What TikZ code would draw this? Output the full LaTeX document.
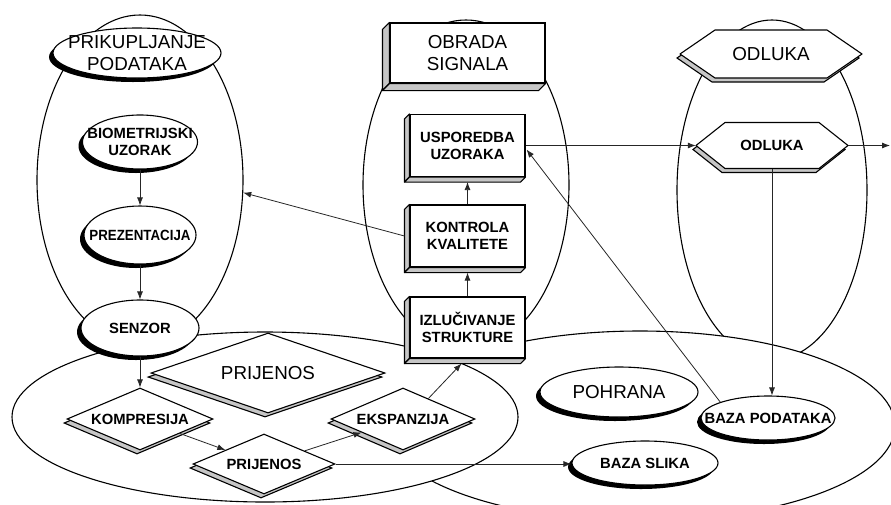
\documentclass[tikz,border=0pt]{standalone}
\usepackage{fontspec}
\setmainfont{Liberation Sans}
\usepackage{graphicx}
\usetikzlibrary{shapes.geometric,arrows.meta,calc}
\tikzset{
  grp/.style={draw, ellipse, line width=1.1pt, inner sep=0pt},
  big/.style={font=\fontsize{18.8}{22.5}\selectfont, align=center, inner sep=0pt},
  small/.style={font=\bfseries\fontsize{14.8}{17}\selectfont, align=center, inner sep=0pt},
  oval/.style={ellipse, draw, fill=white, line width=1.1pt, inner sep=0pt,
    preaction={fill=black, transform canvas={xshift=-4pt, yshift=-4pt}}},
  box/.style={rectangle, draw, fill=white, line width=1.1pt, inner sep=0pt},
  dia/.style={diamond, draw, fill=white, line width=1.1pt, inner sep=0pt,
    preaction={draw=black, fill=gray!45, line width=1.1pt, transform canvas={xshift=-3pt, yshift=-4pt}}},
  hexa/.style={draw, fill=white, line width=1.1pt, line join=round,
    preaction={draw=black, fill=gray!45, line width=1.1pt, transform canvas={xshift=-3pt, yshift=-4pt}}},
  bevel/.style={fill=gray!45, draw=black, line width=1.1pt, line join=round},
  conn/.style={draw=black!85, line width=0.8pt, -{Latex[length=8pt,width=6pt]}},
  plain/.style={draw=black!85, line width=0.8pt},
}
\begin{document}
\begin{tikzpicture}[x=1pt, y=-1pt]
\useasboundingbox (0,0) rectangle (891,504);
\clip (0,0) rectangle (891,504);
% group ellipses
\node[grp, minimum width=206pt, minimum height=330pt] (grpL) at (140,180) {};
\node[grp, minimum width=206pt, minimum height=330pt] (grpM) at (466,185) {};
\node[grp, minimum width=190pt, minimum height=340pt] (grpR) at (772,190) {};
\node[grp, fill=white, minimum width=510pt, minimum height=190pt] (grpS) at (640,426) {};
\node[grp, fill=white, minimum width=506pt, minimum height=170pt] (grpT) at (265,417) {};

% headers
\node[oval, minimum width=168pt, minimum height=50pt,
  label={[big]center:{PRIKUPLJANJE\\PODATAKA}}] (prik) at (137,53) {};
\node[box, minimum width=155pt, minimum height=60pt, big] (obr) at (467.5,53) {OBRADA\\SIGNALA};
\filldraw[bevel] (obr.north west) -- ++(-7,7) -- ($(obr.south west)+(-7,7)$) -- (obr.south west) -- cycle;
\filldraw[bevel] (obr.south west) -- ++(-7,7) -- ($(obr.south east)+(-7,7)$) -- (obr.south east) -- cycle;
\path[hexa] (680,54) -- (715,30) -- (827,30) -- (862,54) -- (827,78) -- (715,78) -- cycle;
\node[big, minimum width=182pt, minimum height=48pt] (hexT) at (771,54) {ODLUKA};

% left column
\node[oval, minimum width=115pt, minimum height=54pt,
  label={[small]center:{BIOMETRIJSKI\\UZORAK}}] (bio) at (140,142) {};
\node[oval, minimum width=112pt, minimum height=58pt,
  label={[small]center:{\scalebox{0.9}[1]{PREZENTACIJA}}}] (prez) at (140,235) {};
\node[oval, minimum width=118pt, minimum height=56pt,
  label={[small]center:SENZOR}] (sen) at (140,328) {};

% middle column
\node[box, small, minimum width=115pt, minimum height=62pt] (usp) at (467.5,145.5) {USPOREDBA\\UZORAKA};
\filldraw[bevel] (usp.north west) -- ++(-5,5) -- ($(usp.south west)+(-5,5)$) -- (usp.south west) -- cycle;
\filldraw[bevel] (usp.south west) -- ++(-5,5) -- ($(usp.south east)+(-5,5)$) -- (usp.south east) -- cycle;
\node[box, small, minimum width=115pt, minimum height=62pt] (kon) at (467.5,236) {KONTROLA\\KVALITETE};
\filldraw[bevel] (kon.north west) -- ++(-5,5) -- ($(kon.south west)+(-5,5)$) -- (kon.south west) -- cycle;
\filldraw[bevel] (kon.south west) -- ++(-5,5) -- ($(kon.south east)+(-5,5)$) -- (kon.south east) -- cycle;
\node[box, small, minimum width=115pt, minimum height=61pt] (izl) at (467.5,327.5) {IZLUČIVANJE\\STRUKTURE};
\filldraw[bevel] (izl.north west) -- ++(-5,5) -- ($(izl.south west)+(-5,5)$) -- (izl.south west) -- cycle;
\filldraw[bevel] (izl.south west) -- ++(-5,5) -- ($(izl.south east)+(-5,5)$) -- (izl.south east) -- cycle;

% right column
\path[hexa] (696,145.5) -- (725,122.5) -- (819,122.5) -- (848,145.5) -- (819,168.5) -- (725,168.5) -- cycle;
\node[small, minimum width=152pt, minimum height=46pt] (hexI) at (772,145.5) {ODLUKA};
\coordinate (out) at (890,145.5);

% bottom-left group
\node[dia, minimum width=234pt, minimum height=80pt,
  label={[big]center:PRIJENOS}] (prijB) at (268,373) {};
\node[dia, minimum width=146pt, minimum height=62pt,
  label={[small]center:KOMPRESIJA}] (komp) at (140,419) {};
\node[dia, minimum width=142pt, minimum height=60pt,
  label={[small]center:PRIJENOS}] (prij) at (264,464) {};
\node[dia, minimum width=144pt, minimum height=62pt,
  label={[small]center:EKSPANZIJA}] (eksp) at (403,419) {};

% bottom-right group
\node[oval, minimum width=158pt, minimum height=50pt,
  label={[big]center:POHRANA}] (poh) at (619,392) {};
\node[oval, minimum width=134pt, minimum height=44pt,
  label={[small]center:{BAZA PODATAKA}}] (bazaP) at (768,418) {};
\node[oval, minimum width=146pt, minimum height=44pt,
  label={[small]center:{BAZA SLIKA}}] (bazaS) at (645,463) {};

% connectors
\draw[conn] (bio.south) -- (prez.north);
\draw[conn] (prez.south) -- (sen.north);
\draw[conn] (sen.south) -- (komp.north);
\draw[conn] (komp) -- (prij);
\draw[conn] (prij) -- (eksp);
\draw[conn] ($(eksp.north)!0.35!(eksp.east)$) -- ($(izl.south)+(-6,5)$);
\draw[conn] (izl.north) -- ($(kon.south)+(0,5)$);
\draw[conn] (kon.north) -- ($(usp.south)+(0,5)$);
\draw[conn] ($(kon.west)+(-5,0)$) -- (grpL.-7);
\draw[conn] (usp.east) -- (usp.east -| hexI.west);
\draw[conn] (hexI.east) -- (out);
\draw[conn] (hexI.south) -- (hexI.south |- bazaP.north);
\draw[conn] (bazaP.north west) -- ($(usp.east)+(1,4)$);
\draw[conn] (prij.east) -- (prij.east -| bazaS.west);
\end{tikzpicture}
\end{document}
